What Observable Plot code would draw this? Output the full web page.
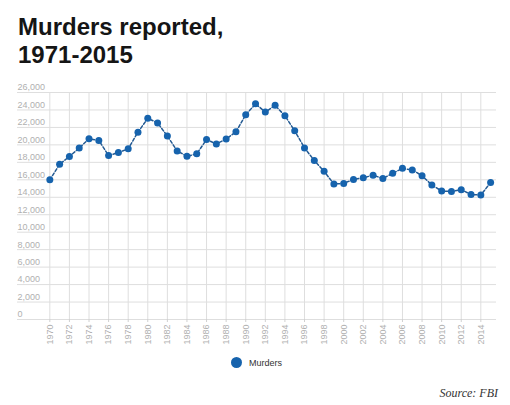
<!DOCTYPE html>
<html>
<head>
<meta charset="utf-8">
<script src="https://cdn.jsdelivr.net/npm/d3@7"></script>
<script src="https://cdn.jsdelivr.net/npm/@observablehq/plot@0.6"></script>
<style>
  body { margin: 0; background: white; width: 510px; height: 405px; position: relative; overflow: hidden; }
  #title { position: absolute; left: 18px; top: 13px; font: bold 24px/27.6px "Liberation Sans", Arial, sans-serif; color: #151515; }
  #chart { position: absolute; left: 0; top: 80px; }
  #legend { position: absolute; left: 231px; top: 357px; font: 9px "Liberation Sans", Arial, sans-serif; color: #333; display: flex; align-items: center; }
  #legend .sw { width: 11px; height: 11px; border-radius: 50%; background: #1663ad; margin-right: 7px; }
  #source { position: absolute; right: 12px; top: 386px; font: italic 12px "Liberation Serif", "DejaVu Serif", serif; color: #333; }
</style>
</head>
<body>
<div id="title">Murders reported,<br>1971-2015</div>
<div id="chart"></div>
<div id="legend"><span class="sw"></span>Murders</div>
<div id="source">Source: FBI</div>
<script>
const years = [1970, 1971, 1972, 1973, 1974, 1975, 1976, 1977, 1978, 1979,
  1980, 1981, 1982, 1983, 1984, 1985, 1986, 1987, 1988, 1989,
  1990, 1991, 1992, 1993, 1994, 1995, 1996, 1997, 1998, 1999,
  2000, 2001, 2002, 2003, 2004, 2005, 2006, 2007, 2008, 2009,
  2010, 2011, 2012, 2013, 2014, 2015];
const murders = [16000, 17780, 18670, 19640, 20710, 20510, 18780, 19120, 19560, 21460,
  23040, 22520, 21010, 19310, 18690, 18980, 20610, 20100, 20680, 21500,
  23440, 24700, 23760, 24530, 23330, 21610, 19650, 18210, 16970, 15520,
  15590, 16040, 16230, 16530, 16150, 16740, 17310, 17130, 16470, 15400,
  14720, 14660, 14860, 14320, 14250, 15700];
const xTicks = [1970, 1972, 1974, 1976, 1978, 1980, 1982, 1984, 1986, 1988, 1990, 1992,
  1994, 1996, 1998, 2000, 2002, 2004, 2006, 2008, 2010, 2012, 2014];
const yTicks = [0, 2000, 4000, 6000, 8000, 10000, 12000, 14000, 16000, 18000, 20000,
  22000, 24000, 26000];

const data = years.map((year, i) => ({year, murders: murders[i]}));

let chart = Plot.plot({
  width: 510,
  height: 270,
  marginLeft: 17,
  marginRight: 14,
  marginTop: 12,
  marginBottom: 31,
  x: { domain: [1966.7, 2015.6] },
  y: { domain: [0, 26000] },
  style: {
    "font-family": "'Liberation Sans', Arial, sans-serif",
    background: "white",
  },
  marks: [
    Plot.ruleY(yTicks, { stroke: "#dedede" }),
    Plot.ruleX(xTicks, { stroke: "#dedede" }),
    Plot.axisY(yTicks, {
      anchor: "left",
      tickSize: 0,
      tickPadding: 0,
      textAnchor: "start",
      dy: -5,
      tickFormat: d3.format(","),
      fill: "#b0b0b0",
      fontSize: 9,
      label: null,
    }),
    Plot.axisX(xTicks, {
      anchor: "bottom",
      tickSize: 3,
      tickPadding: 2,
      tickRotate: -90,
      tickFormat: d3.format("d"),
      stroke: "#d0d0d0",
      fill: "#b0b0b0",
      fontSize: 9,
      label: null,
    }),
    Plot.line(data, {
      x: "year",
      y: "murders",
      stroke: "#245a92",
      strokeWidth: 1.5,
      strokeDasharray: "3,2",
    }),
    Plot.dot(data, { x: "year", y: "murders", r: 3.5, fill: "#1663ad" }),
  ],
});

d3.select("#chart").append(() => chart);
</script>
</body>
</html>
